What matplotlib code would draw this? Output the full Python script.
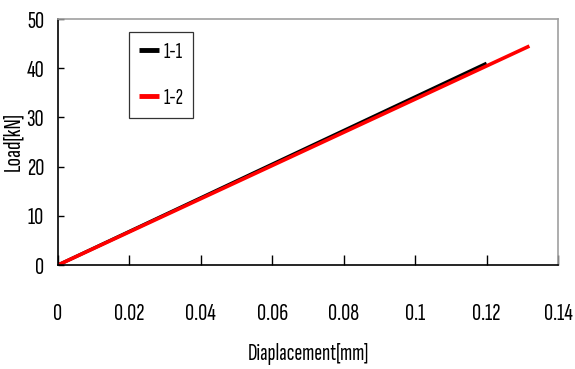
import matplotlib
matplotlib.use('Agg')
import matplotlib.pyplot as plt

plt.rcParams['font.family'] = ['Sofia Sans Extra Condensed', 'DejaVu Sans']

# displacement [mm] / load [kN]
disp_11 = [0.0, 0.12]
load_11 = [0.0, 41.0]
disp_12 = [0.0, 0.132]
load_12 = [0.0, 44.5]

xticks = [0, 0.02, 0.04, 0.06, 0.08, 0.1, 0.12, 0.14]
xticklabels = ['0', '0.02', '0.04', '0.06', '0.08', '0.1', '0.12', '0.14']
yticks = [0, 10, 20, 30, 40, 50]

fig = plt.figure(figsize=(5.75, 3.69), dpi=100)
ax = fig.add_axes([0.1009, 0.2818, 0.8695, 0.6667])

ax.plot(disp_11, load_11, color='black', lw=2.4, label='1-1', solid_capstyle='butt')
ax.plot(disp_12, load_12, color='red', lw=2.6, label='1-2', solid_capstyle='butt')

ax.set_xlim(0, 0.14)
ax.set_ylim(0, 50)
ax.set_xticks(xticks)
ax.set_xticklabels(xticklabels)
ax.set_yticks(yticks)

ax.tick_params(axis='x', direction='in', length=7, width=1, pad=27, labelsize=18)
ax.tick_params(axis='y', direction='in', length=4, width=1, pad=10, labelsize=18)

for s in ['top', 'right']:
    ax.spines[s].set_color('#a0a0a0')
    ax.spines[s].set_linewidth(1.2)
for s in ['left', 'bottom']:
    ax.spines[s].set_color('black')
    ax.spines[s].set_linewidth(1.2)

ax.set_xlabel('Diaplacement[mm]', fontsize=17, labelpad=13)
ax.set_ylabel('Load[kN]', fontsize=18, va='center')
ax.yaxis.set_label_coords(-0.09, 0.5)

leg = ax.legend(loc='upper left', bbox_to_anchor=(0.142, 0.947), fontsize=16,
                frameon=True, fancybox=False, edgecolor='black', handlelength=0.9,
                handletextpad=0.2, labelspacing=1.2, borderpad=0.45,
                borderaxespad=0)
leg.get_frame().set_linewidth(0.9)
for l in leg.get_lines():
    l.set_linewidth(3.5)

fig.savefig('out.png', dpi=100)
